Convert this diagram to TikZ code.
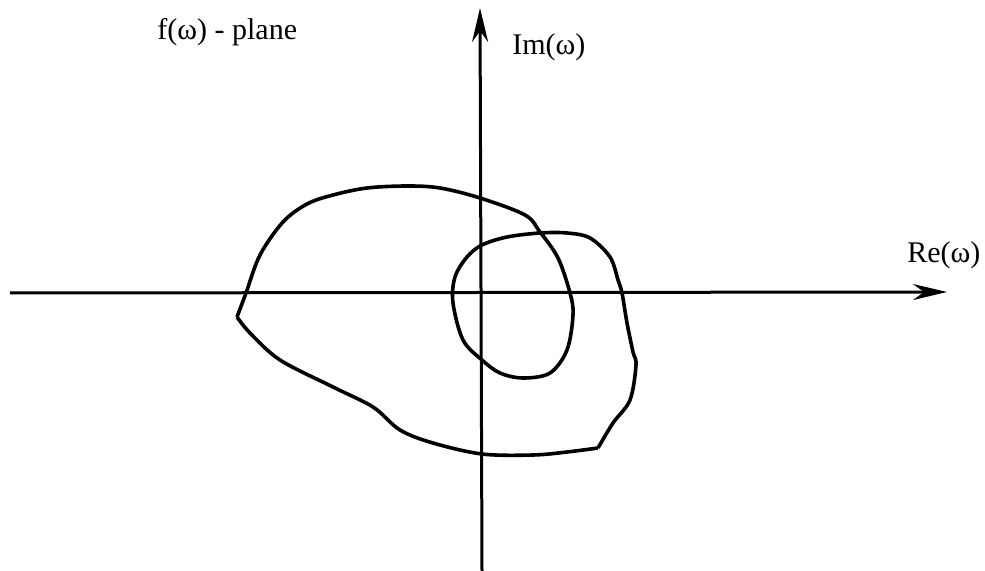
\documentclass[tikz,border=0pt]{standalone}
\usepackage{fontspec}
\setmainfont{Liberation Serif}
\usetikzlibrary{arrows.meta}
\begin{document}
\begin{tikzpicture}[
    x=0.5pt, y=-0.5pt,
    axis/.style={line width=1.5pt},
    contour/.style={line width=1.8pt, line join=round},
    label/.style={font=\fontsize{15}{17}\selectfont, inner sep=0pt, anchor=base west},
    >={Stealth[length=17pt,width=8pt]}
]
\useasboundingbox (0,0) rectangle (985,571);

% axes
\coordinate (xl) at (10,293);
\coordinate (xr) at (947,292);
\coordinate (yb) at (482,571);
\coordinate (yt) at (480,8);
\draw[axis,->] (xl) -- (xr);
\draw[axis,->] (yb) -- (yt);

\node[label] (plane) at (157,40) {f(ω) - plane};
\node[label] (im) at (512,55) {Im(ω)};
\node[label] (re) at (907,263) {Re(ω)};

% the contour, two smooth pieces meeting at two corners
\coordinate (ca) at (237,317);
\coordinate (cb) at (598,448);
\draw[contour] plot[smooth, tension=0.55] coordinates {
    (237,317) (246,293) (260,255) (283,222) (307,204)
    (333,195) (367,188) (407,186) (440,188) (480,198)
    (525,215) (540,232) (558,258) (570,293) (573,315) (567,350)
    (550,373) (523,378) (500,373) (482,360) (463,340) (453,303)
    (455,277) (467,257) (482,245) (507,237) (540,233) (567,233)
    (590,238) (610,257) (618,280) (622,293) (627,323) (633,352)
    (636,365) (630,400) (613,423) (598,448)};
\draw[contour] plot[smooth, tension=0.55] coordinates {
    (598,448) (567,452) (533,455) (482,454) (433,443) (400,430)
    (373,407) (333,387) (280,360) (250,333) (237,317)};
\end{tikzpicture}
\end{document}
